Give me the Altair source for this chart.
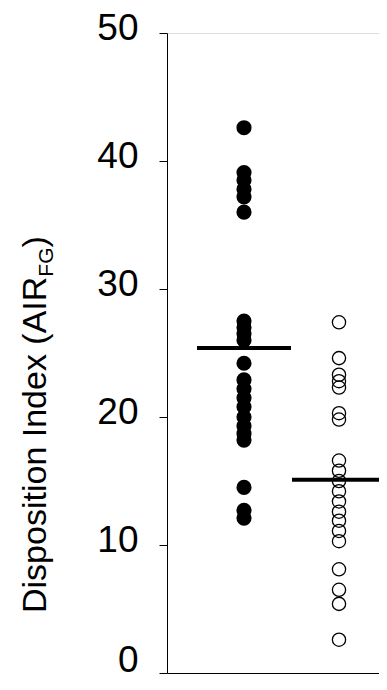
import altair as alt
import pandas as pd

groups = ["Filled", "Open"]
filled_values = [42.6, 39.1, 38.5, 37.8, 37.2, 36.0,
                 27.5, 27.0, 26.5, 26.0, 24.2,
                 22.9, 22.2, 21.5, 20.8, 20.0, 19.3, 18.7, 18.2,
                 14.5, 12.7, 12.1]
open_values = [27.4, 24.6, 23.3, 22.8, 22.3, 20.3, 19.8,
               16.6, 15.8, 15.0, 14.2, 13.4, 12.6, 11.9, 11.1, 10.3,
               8.1, 6.5, 5.4, 2.6]
mean_values = [25.4, 15.1]
y_ticks = [0, 10, 20, 30, 40, 50]
title_main = "Disposition Index (AIR"
title_sub = "FG"
title_end = ")"

FONT = "Liberation Sans"

points = pd.DataFrame({
    "group": [groups[0]] * len(filled_values) + [groups[1]] * len(open_values),
    "value": filled_values + open_values,
})
means = pd.DataFrame({"group": groups, "mean": mean_values})

xscale = alt.Scale(domain=[-0.81053, 1.42105], nice=False, zero=False)
yscale = alt.Scale(domain=[0, 50], nice=False)

x_axis = alt.Axis(title=None, labels=False, ticks=False, grid=False,
                  domainColor="black", domainWidth=1)
y_axis = alt.Axis(title=None, values=y_ticks, grid=False, tickSize=8,
                  tickColor="black", domainColor="black", labelColor="black",
                  labelFont=FONT, labelFontSize=37, labelPadding=21,
                  labelOffset={"condition": {"test": "datum.value == 0", "value": -13},
                               "value": -5})

pos_calc = f"datum.group == '{groups[0]}' ? 0 : 1"

base = alt.Chart(points).transform_calculate(pos=pos_calc)

filled = base.transform_filter(f"datum.group == '{groups[0]}'").mark_point(
    shape="circle", filled=True, color="black", size=230, opacity=1
).encode(
    x=alt.X("pos:Q", scale=xscale, axis=x_axis),
    y=alt.Y("value:Q", scale=yscale, axis=y_axis),
)

opened = base.transform_filter(f"datum.group == '{groups[1]}'").mark_point(
    shape="circle", filled=False, color="black", size=175, strokeWidth=1.3, opacity=1
).encode(
    x=alt.X("pos:Q", scale=xscale),
    y=alt.Y("value:Q", scale=yscale),
)

mean_ticks = alt.Chart(means).transform_calculate(pos=pos_calc).mark_tick(
    orient="horizontal", color="black", size=94, thickness=4, opacity=1
).encode(
    x=alt.X("pos:Q", scale=xscale),
    y=alt.Y("mean:Q", scale=yscale),
)

one = pd.DataFrame({"k": [0]})
t1 = alt.Chart(one).mark_text(
    angle=270, align="left", baseline="alphabetic", font=FONT, fontSize=34, color="black"
).encode(x=alt.value(-121), y=alt.value(580), text=alt.value(title_main))
t2 = alt.Chart(one).mark_text(
    angle=270, align="left", baseline="alphabetic", font=FONT, fontSize=21, color="black"
).encode(x=alt.value(-114), y=alt.value(243.7), text=alt.value(title_sub))
t3 = alt.Chart(one).mark_text(
    angle=270, align="left", baseline="alphabetic", font=FONT, fontSize=34, color="black"
).encode(x=alt.value(-121), y=alt.value(214.5), text=alt.value(title_end))

chart = alt.layer(filled, opened, mean_ticks, t1, t2, t3).properties(
    width=212, height=640,
    autosize=alt.AutoSizeParams(type="none"),
    padding={"left": 159, "top": 25, "right": 0, "bottom": 9},
).configure_view(strokeWidth=0).configure(background="white")

chart.save("out.html", embed_options={"renderer": "svg", "actions": False})
